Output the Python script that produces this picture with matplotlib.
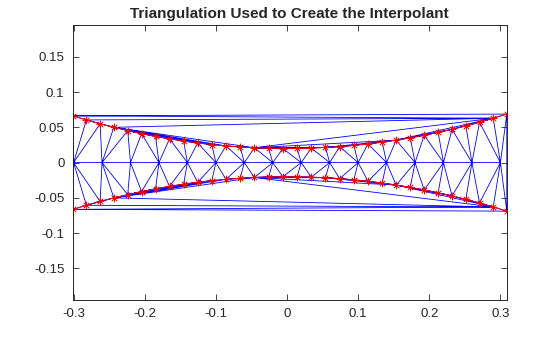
import numpy as np
import matplotlib
matplotlib.use("Agg")
import matplotlib.pyplot as plt
import matplotlib.tri as mtri

# boundary points of the concave domain (upper arc and lower arc)
x_upper = [0.3090, 0.2899, 0.2707, 0.2514, 0.2320, 0.2125, 0.1929, 0.1733,
           0.1535, 0.1338, 0.1139, 0.0940, 0.0741, 0.0541, 0.0342, 0.0142,
           -0.0058, -0.0258, -0.0458, -0.0658, -0.0857, -0.1056, -0.1255, -0.1453,
           -0.1651, -0.1848, -0.2044, -0.2239, -0.2434, -0.2627, -0.2820, -0.3011]
y_upper = [0.0689, 0.0630, 0.0573, 0.0521, 0.0473, 0.0428, 0.0388, 0.0351,
           0.0319, 0.0290, 0.0265, 0.0244, 0.0227, 0.0215, 0.0206, 0.0201,
           0.0200, 0.0203, 0.0211, 0.0222, 0.0237, 0.0256, 0.0279, 0.0306,
           0.0337, 0.0372, 0.0411, 0.0454, 0.0501, 0.0551, 0.0606, 0.0664]
x_lower = list(x_upper)
y_lower = [-0.0689, -0.0630, -0.0573, -0.0521, -0.0473, -0.0428, -0.0388, -0.0351,
           -0.0319, -0.0290, -0.0265, -0.0244, -0.0227, -0.0215, -0.0206, -0.0201,
           -0.0200, -0.0203, -0.0211, -0.0222, -0.0237, -0.0256, -0.0279, -0.0306,
           -0.0337, -0.0372, -0.0411, -0.0454, -0.0501, -0.0551, -0.0606, -0.0664]

# interior points along the centre line
x_mid = [-0.30, -0.26, -0.22, -0.18, -0.14, -0.10, -0.06, -0.02,
         0.02, 0.06, 0.10, 0.14, 0.18, 0.22, 0.26, 0.30]
y_mid = [0.0] * 16

x_ticks = [-0.3, -0.2, -0.1, 0, 0.1, 0.2, 0.3]
x_ticklabels = ['-0.3', '-0.2', '-0.1', '0', '0.1', '0.2', '0.3']
y_ticks = [-0.15, -0.1, -0.05, 0, 0.05, 0.1, 0.15]
y_ticklabels = ['-0.15', '-0.1', '-0.05', '0', '0.05', '0.1', '0.15']

plt.rcParams['font.family'] = ['Liberation Sans', 'DejaVu Sans']
plt.rcParams['axes.unicode_minus'] = False

dark = (0.15, 0.15, 0.15)

x = np.array(x_lower + x_upper + x_mid)
y = np.array(y_lower + y_upper + y_mid)
tri = mtri.Triangulation(x, y)

fig = plt.figure(figsize=(5.6, 3.37), dpi=100)
ax = fig.add_axes([0.13, 0.11, 0.775, 0.815])

ax.triplot(tri, color='blue', lw=0.6)
star = (8, 2, 0)
ax.plot(x_lower, y_lower, color='red', lw=0.7, marker=star, ms=5.5, mew=0.45)
ax.plot(x_upper, y_upper, color='red', lw=0.7, marker=star, ms=5.5, mew=0.45)

ax.set_xlim(min(x), max(x))
ax.set_ylim(-0.195, 0.195)
ax.set_xticks(x_ticks)
ax.set_xticklabels(x_ticklabels)
ax.set_yticks(y_ticks)
ax.set_yticklabels(y_ticklabels)
ax.tick_params(direction='in', length=4, width=0.6, colors=dark,
               top=True, right=True, labelsize=9.5, pad=6)
for s in ax.spines.values():
    s.set_color(dark)
    s.set_linewidth(0.7)

ax.set_title('Triangulation Used to Create the Interpolant',
             fontsize=11, fontweight='bold', color=dark, pad=5)

fig.savefig('out.png', dpi=100)
